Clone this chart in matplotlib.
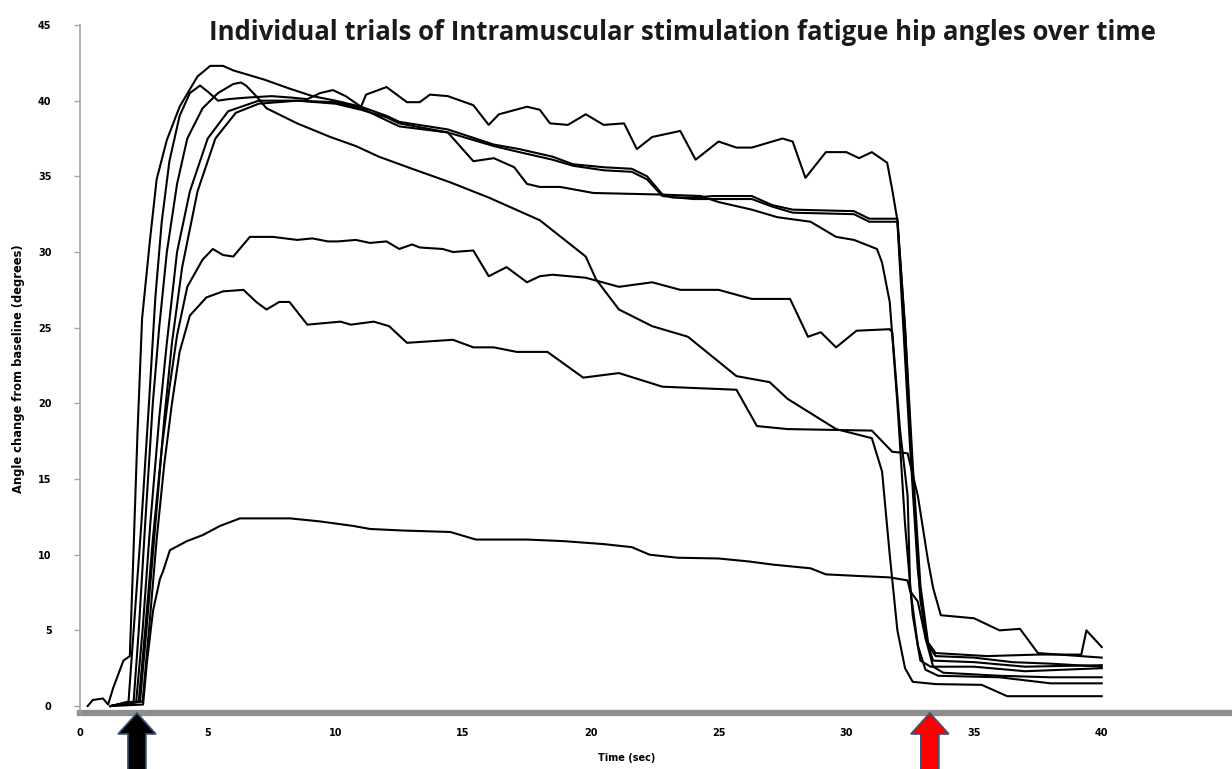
import matplotlib
matplotlib.use('Agg')
import matplotlib.pyplot as plt
from matplotlib.patches import Polygon

# ---------------- data (time in s, hip angle change in degrees) ----------------
E_t = [0.3, 0.5, 0.9, 1.1, 1.3, 1.7, 1.95, 2.07, 2.25, 2.43, 2.74, 3.0, 3.4, 3.9, 4.6, 5.1, 5.6, 6.0, 7.2, 8.2,
       9.1, 10.0, 11.0, 12.0, 12.5, 14.4, 16.2, 17.2, 18.5, 19.3, 20.5, 21.6, 22.2, 22.8, 23.2, 24.0, 24.8, 26.3,
       27.1, 27.9, 30.3, 30.9, 32.0, 32.3, 32.6, 32.9, 33.2, 33.5, 35.0, 36.5, 38.0, 40.0]
E_v = [0.0, 0.4, 0.5, 0.1, 1.2, 3.0, 3.3, 9.0, 18.0, 25.6, 30.8, 34.8, 37.4, 39.6, 41.6, 42.3, 42.3, 42.0, 41.4, 40.8,
       40.3, 40.0, 39.6, 39.0, 38.6, 38.1, 37.1, 36.8, 36.3, 35.8, 35.6, 35.5, 35.0, 33.8, 33.6, 33.6, 33.7, 33.7,
       33.1, 32.8, 32.7, 32.2, 32.2, 25.0, 15.0, 7.0, 4.0, 3.3, 3.2, 2.9, 2.8, 2.6]

A_t = [1.2, 1.9, 2.1, 2.4, 2.7, 2.95, 3.2, 3.5, 3.9, 4.3, 4.7, 5.0, 5.4, 5.8, 6.5, 7.5, 8.3, 8.9, 9.4, 9.9, 10.4,
       11.0, 11.2, 12.0, 12.8, 13.3, 13.7, 14.4, 15.4, 16.0, 16.4, 17.5, 18.0, 18.4, 19.1, 19.8, 20.5, 21.3, 21.8,
       22.4, 23.5, 24.1, 25.0, 25.7, 26.3, 27.5, 27.9, 28.4, 29.2, 30.0, 30.5, 31.0, 31.6, 31.8, 32.0, 32.3, 32.6,
       32.9, 33.2, 33.5, 35.5, 37.5, 39.2, 39.4, 40.0]
A_v = [0.0, 0.3, 5.0, 12.0, 20.0, 27.0, 32.0, 36.0, 39.0, 40.5, 41.0, 40.6, 40.0, 40.1, 40.2, 40.3, 40.2, 40.1, 40.5,
       40.7, 40.3, 39.6, 40.4, 40.9, 39.9, 39.9, 40.4, 40.3, 39.7, 38.4, 39.1, 39.6, 39.4, 38.5, 38.4, 39.1, 38.4,
       38.5, 36.8, 37.6, 38.0, 36.1, 37.3, 36.9, 36.9, 37.5, 37.3, 34.9, 36.6, 36.6, 36.2, 36.6, 35.9, 34.1, 32.1,
       25.0, 16.0, 8.0, 4.2, 3.5, 3.3, 3.4, 3.4, 5.0, 3.9]

G_t = [1.2, 2.2, 2.45, 2.75, 3.1, 3.4, 3.8, 4.3, 5.0, 5.8, 7.0, 8.5, 10.0, 11.0, 12.0, 12.5, 14.4, 16.2, 17.2, 18.5,
       19.3, 20.5, 21.6, 22.2, 22.8, 24.0, 26.3, 27.1, 27.9, 30.3, 30.9, 32.0, 32.2, 32.5, 32.8, 33.1, 33.4, 35.0,
       37.0, 40.0]
G_v = [0.0, 0.3, 5.0, 12.0, 19.0, 24.0, 30.0, 34.0, 37.5, 39.3, 40.0, 40.0, 39.8, 39.4, 38.9, 38.5, 37.9, 37.0, 36.6,
       36.1, 35.7, 35.4, 35.3, 34.8, 33.7, 33.5, 33.5, 33.0, 32.6, 32.5, 32.0, 32.0, 26.0, 17.0, 9.0, 4.5, 3.0, 2.9,
       2.6, 2.7]

H_t = [1.2, 2.35, 2.6, 2.95, 3.3, 3.6, 4.0, 4.6, 5.3, 6.1, 7.0, 8.5, 10.0, 11.0, 12.0, 12.5, 14.4, 15.4, 16.2, 17.0,
       17.5, 18.0, 18.8, 20.1, 22.7, 24.3, 25.0, 26.3, 27.3, 28.6, 29.6, 30.3, 31.2, 31.4, 31.7, 32.0, 32.3, 32.6,
       32.9, 33.3, 35.0, 37.0, 40.0]
H_v = [0.0, 0.3, 5.0, 12.0, 19.0, 24.0, 29.0, 34.0, 37.5, 39.2, 39.8, 40.0, 39.9, 39.5, 38.7, 38.3, 37.9, 36.0, 36.2,
       35.6, 34.5, 34.3, 34.3, 33.9, 33.8, 33.7, 33.3, 32.8, 32.3, 32.0, 31.0, 30.8, 30.2, 29.3, 26.7, 20.0, 12.0,
       6.0, 3.0, 2.6, 2.6, 2.3, 2.5]

D_t = [1.2, 2.1, 2.3, 2.55, 2.85, 3.1, 3.4, 3.8, 4.2, 4.8, 5.4, 6.0, 6.3, 6.5, 6.9, 7.3, 8.5, 9.8, 10.8, 11.7, 13.0,
       14.5, 16.0, 18.0, 19.8, 20.2, 21.1, 22.4, 23.8, 25.7, 27.0, 27.7, 29.6, 31.0, 31.4, 31.7, 32.0, 32.3, 32.6,
       33.5, 35.3, 36.3, 40.0]
D_v = [0.0, 0.3, 5.0, 12.0, 20.0, 25.0, 30.0, 34.5, 37.5, 39.5, 40.5, 41.1, 41.2, 41.0, 40.3, 39.5, 38.5, 37.6, 37.0,
       36.3, 35.5, 34.6, 33.6, 32.1, 29.7, 28.2, 26.2, 25.1, 24.4, 21.8, 21.4, 20.3, 18.3, 17.7, 15.5, 10.0, 5.0,
       2.5, 1.6, 1.45, 1.4, 0.65, 0.65]

C_t = [1.2, 2.3, 2.55, 2.85, 3.2, 3.5, 3.8, 4.2, 4.8, 5.2, 5.6, 6.0, 6.65, 7.55, 8.5, 9.1, 9.7, 10.1, 10.8, 11.35,
       12.0, 12.5, 13.0, 13.3, 14.2, 14.6, 15.4, 16.0, 16.7, 17.5, 18.0, 18.5, 19.8, 21.1, 22.4, 23.5, 25.0, 26.3,
       27.8, 28.5, 29.0, 29.6, 30.4, 31.7, 31.8, 32.1, 32.4, 32.5, 32.8, 33.1, 33.6, 36.0, 38.0, 40.0]
C_v = [0.0, 0.3, 5.0, 11.0, 17.0, 21.0, 24.5, 27.7, 29.5, 30.2, 29.8, 29.7, 31.0, 31.0, 30.8, 30.9, 30.7, 30.7, 30.8,
       30.6, 30.7, 30.2, 30.5, 30.3, 30.2, 30.0, 30.1, 28.4, 29.0, 28.0, 28.4, 28.5, 28.3, 27.7, 28.0, 27.5, 27.5,
       26.9, 26.9, 24.4, 24.7, 23.7, 24.8, 24.9, 24.7, 18.3, 13.9, 7.8, 4.0, 2.4, 2.0, 1.9, 1.5, 1.5]

B_t = [1.2, 2.45, 2.7, 3.0, 3.3, 3.6, 3.9, 4.3, 4.95, 5.6, 6.4, 6.9, 7.3, 7.8, 8.2, 8.9, 10.2, 10.6, 11.5, 12.1,
       12.8, 14.6, 15.4, 16.2, 17.1, 18.3, 19.7, 21.1, 22.8, 25.7, 26.5, 27.7, 31.0, 31.8, 32.4, 32.8, 33.2, 33.4,
       33.7, 35.0, 36.0, 36.8, 37.5, 40.0]
B_v = [0.0, 0.3, 5.0, 11.0, 16.0, 20.0, 23.4, 25.8, 27.0, 27.4, 27.5, 26.7, 26.2, 26.7, 26.7, 25.2, 25.4, 25.2, 25.4,
       25.1, 24.0, 24.2, 23.7, 23.7, 23.4, 23.4, 21.7, 22.0, 21.1, 20.9, 18.5, 18.3, 18.2, 16.8, 16.7, 13.9, 9.6,
       7.8, 6.0, 5.8, 5.0, 5.1, 3.5, 3.2]

L_t = [1.2, 2.47, 2.62, 2.86, 3.13, 3.25, 3.52, 4.19, 4.81, 5.48, 6.26, 8.22, 9.39, 10.7, 11.35, 12.6, 14.5, 15.5,
       17.5, 18.9, 20.5, 21.6, 22.3, 23.4, 25.0, 26.2, 27.1, 28.6, 29.2, 30.4, 31.7, 32.4, 32.5, 32.8, 33.1, 33.4,
       33.8, 36.0, 38.0, 40.0]
L_v = [0.0, 0.1, 2.9, 6.3, 8.4, 8.9, 10.3, 10.9, 11.3, 11.9, 12.4, 12.4, 12.2, 11.9, 11.7, 11.6, 11.5, 11.0, 11.0,
       10.9, 10.7, 10.5, 10.0, 9.8, 9.75, 9.55, 9.35, 9.1, 8.7, 8.6, 8.5, 8.3, 7.6, 6.9, 4.5, 2.6, 2.2,
       2.0, 1.9, 1.9]

x_ticks = [0, 5, 10, 15, 20, 25, 30, 35, 40]
y_ticks = [0, 5, 10, 15, 20, 25, 30, 35, 40, 45]
arrow_times = [2.23, 33.27]          # stimulation on (black) / off (red)
arrow_colors = ['#000000', '#ff0000']

title = 'Individual trials of Intramuscular stimulation fatigue hip angles over time'
xlabel = 'Time (sec)'
ylabel = 'Angle change from baseline (degrees)'

# ---------------- figure ----------------
W, H = 1232, 769
fig = plt.figure(figsize=(W / 100, H / 100), dpi=100)
ax = fig.add_axes([80 / W, 1 - 713 / H, 1 - 80 / W, (713 - 25) / H])

series = [(E_t, E_v), (A_t, A_v), (G_t, G_v), (H_t, H_v), (D_t, D_v), (C_t, C_v), (B_t, B_v), (L_t, L_v)]
for t, v in series:
    ax.plot(t, v, color='black', lw=1.5, solid_joinstyle='round', zorder=3)

ax.set_xlim(0, 45.1)
ax.set_ylim(-0.46, 45)
ax.set_xticks(x_ticks)
ax.set_yticks(y_ticks)
ax.set_xticklabels([str(x) for x in x_ticks])
ax.set_yticklabels([str(y) for y in y_ticks])

for s in ['top', 'right']:
    ax.spines[s].set_visible(False)
ax.spines['bottom'].set_color('#8e8e8e')
ax.spines['bottom'].set_linewidth(4.5)
ax.spines['bottom'].set_zorder(2)
ax.spines['left'].set_color('#a6a6a6')
ax.spines['left'].set_linewidth(1.2)

ax.tick_params(axis='x', length=0, pad=11, labelsize=7)
ax.tick_params(axis='y', length=4.5, width=1.0, color='#a6a6a6', pad=16, labelsize=7)
for lab in ax.get_xticklabels() + ax.get_yticklabels():
    lab.set_fontweight('bold')

ax.set_xlabel(xlabel, fontsize=7, fontweight='bold')
ax.xaxis.set_label_coords((627 - 80) / (W - 80), -0.058)
ax.set_ylabel(ylabel, fontsize=8.3, fontweight='bold')
ax.yaxis.set_label_coords(-0.048, 0.5)

fig.text(682 / W, 1 - 33 / H, title, ha='center', va='center', fontsize=18.5,
         fontweight='bold', family=['Open Sans', 'DejaVu Sans'], color='#1a1a1a')

# ---------------- arrows under the axis ----------------
for at, col in zip(arrow_times, arrow_colors):
    xp = ax.transData.transform((at, 0))[0]
    tip = 769 - 713
    base = 769 - 734
    hw, sw = 19, 9
    pts = [(xp, tip), (xp + hw, base), (xp + sw, base), (xp + sw, -10),
           (xp - sw, -10), (xp - sw, base), (xp - hw, base)]
    pts = [(px / W, py / H) for px, py in pts]
    fig.patches.append(Polygon(pts, closed=True, transform=fig.transFigure,
                               facecolor=col, edgecolor='#3d5275', lw=1.2, zorder=5))

fig.savefig('out.png', dpi=100)
